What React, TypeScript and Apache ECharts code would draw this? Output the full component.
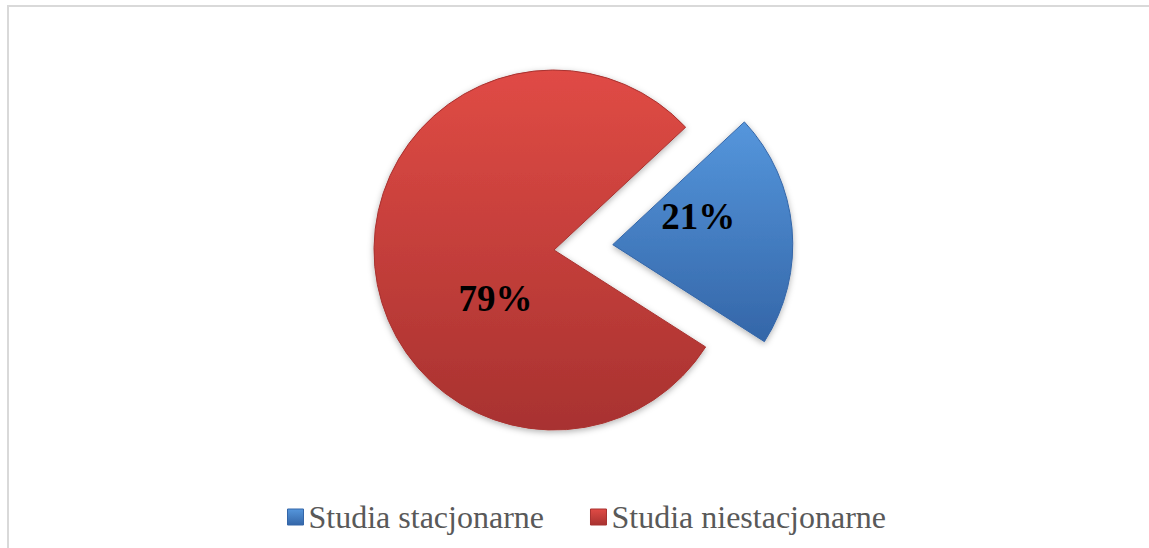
import React, { useEffect, useRef } from "react";
import * as echarts from "echarts";

const categories = ["Studia stacjonarne", "Studia niestacjonarne"];
const values = [21, 79];

const colorsTop = ["#5596dc", "#e04b45"];
const colorsBottom = ["#3466a8", "#a83230"];
const labelShift = [
  [-7, -20],
  [34, 40],
];

export default function App() {
  const ref = useRef<HTMLDivElement>(null);
  useEffect(() => {
    if (!ref.current) return;
    const chart = echarts.init(ref.current, undefined, { renderer: "svg" });
    const serif = "'Liberation Serif', 'Times New Roman', serif";
    const grad = (i: number) =>
      new echarts.graphic.LinearGradient(0, 0, 0, 1, [
        { offset: 0, color: colorsTop[i] },
        { offset: 1, color: colorsBottom[i] },
      ]);
    chart.setOption({
      animation: false,
      backgroundColor: "#ffffff",
      graphic: [
        {
          type: "rect",
          shape: { x: 8, y: 6, width: 1200, height: 600 },
          style: { fill: "none", stroke: "#d9d9d9", lineWidth: 2 },
          silent: true,
        },
      ],
      legend: {
        left: 282,
        top: 496,
        itemWidth: 16,
        itemHeight: 16,
        itemGap: 46,
        icon: "rect",
        textStyle: { fontFamily: serif, fontSize: 32, color: "#595959" },
        data: categories.map((c, i) => ({ name: c, itemStyle: { color: grad(i), borderColor: colorsBottom[i], borderWidth: 1 } })),
        selectedMode: false,
      },
      series: [
        {
          type: "pie",
          center: [554, 250],
          radius: 180,
          startAngle: 43,
          clockwise: true,
          selectedMode: "single",
          selectedOffset: 59,
          emphasis: { disabled: true },
          itemStyle: {
            shadowBlur: 6,
            shadowOffsetY: 2,
            shadowColor: "rgba(0,0,0,0.3)",
          },
          label: {
            show: true,
            position: "inside",
            formatter: "{d}%",
            fontFamily: serif,
            fontSize: 37,
            fontWeight: "bold",
            color: "#000000",
          },
          labelLine: { show: false },
          labelLayout: (p: any) => ({ dx: labelShift[p.dataIndex][0], dy: labelShift[p.dataIndex][1] }),
          data: categories.map((c, i) => ({
            name: c,
            value: values[i],
            selected: i === 0,
            itemStyle: { color: grad(i), borderColor: colorsBottom[i], borderWidth: 1 },
          })),
        },
      ],
    });
    return () => chart.dispose();
  }, []);
  return (
    <div
      ref={ref}
      style={{ position: "absolute", left: 0, top: 0, width: 1149, height: 548 }}
    />
  );
}
